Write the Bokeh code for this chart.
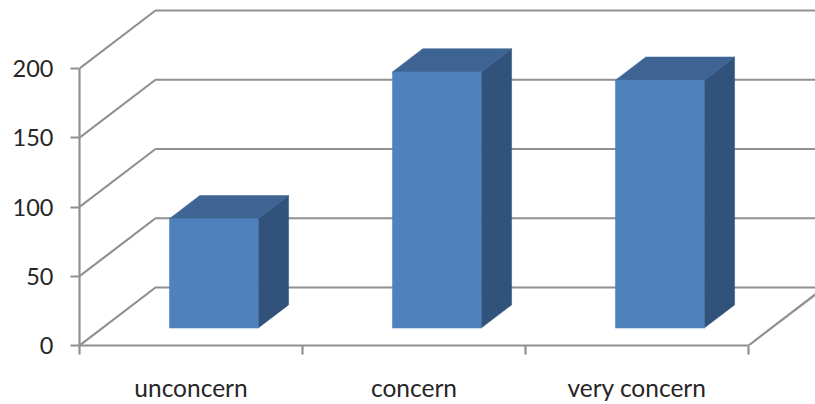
from bokeh.embed import file_html
from bokeh.models import FixedTicker, Range1d
from bokeh.plotting import figure
from bokeh.resources import INLINE

categories = ["unconcern", "concern", "very concern"]
values = [79, 185, 179]
value_ticks = [0, 50, 100, 150, 200]

GRID = "#909090"
TEXT = "#262626"
FRONT = "#4f81bd"
TOP = "#3d6493"
SIDE = "#30527b"

# Oblique projection of the 3D box: one unit of depth moves a point by this much.
DEPTH_X = 76 / 223
DEPTH_Y = 58 / 1.385
BAR_WIDTH = 0.398
BAR_NEAR, BAR_FAR = 0.3, 0.7


def project(x, y, depth):
    return x + depth * DEPTH_X, y + depth * DEPTH_Y


p = figure(
    width=815, height=404, output_backend="svg", toolbar_location=None,
    x_range=Range1d(0, 736 / 223), y_range=Range1d(0, 345 / 1.385),
    min_border_left=79, min_border_bottom=59, min_border_top=0, min_border_right=0,
)
p.outline_line_color = None
p.grid.visible = False
p.background_fill_color = "white"

# Walls: a diagonal on the side wall and a horizontal on the back wall per tick.
n = len(categories)
for v in value_ticks:
    bx, by = project(0, v, 1)
    p.line([0, bx, project(n, v, 1)[0]], [v, by, by], line_color=GRID, line_width=2.2)

# Floor edge on the right
ex, ey = project(n, 0, 1)
p.line([n, ex], [0, ey], line_color=GRID, line_width=2.2)

# Boxes: front, top and side faces
for i, v in enumerate(values):
    left = i + 0.5 - BAR_WIDTH / 2
    right = i + 0.5 + BAR_WIDTH / 2
    front = [project(left, 0, BAR_NEAR), project(right, 0, BAR_NEAR), project(right, v, BAR_NEAR), project(left, v, BAR_NEAR)]
    top = [project(left, v, BAR_NEAR), project(right, v, BAR_NEAR), project(right, v, BAR_FAR), project(left, v, BAR_FAR)]
    side = [project(right, 0, BAR_NEAR), project(right, 0, BAR_FAR), project(right, v, BAR_FAR), project(right, v, BAR_NEAR)]
    for face, colour in ((side, SIDE), (top, TOP), (front, FRONT)):
        p.patch([q[0] for q in face], [q[1] for q in face],
                fill_color=colour, line_color=colour, line_width=0.5)

ya = p.yaxis[0]
ya.bounds = (0, 200)
ya.ticker = FixedTicker(ticks=value_ticks)
ya.axis_line_color = GRID
ya.axis_line_width = 2.2
ya.major_tick_line_color = GRID
ya.major_tick_line_width = 2.2
ya.major_tick_in = 0
ya.major_tick_out = 9
ya.minor_tick_line_color = None
ya.major_label_standoff = 17
ya.major_label_text_font = "Lato"
ya.major_label_text_font_size = "23.5px"
ya.major_label_text_color = TEXT

xa = p.xaxis[0]
xa.bounds = (0, n)
xa.ticker = FixedTicker(ticks=[i + 0.5 for i in range(n)], minor_ticks=list(range(n + 1)))
xa.major_label_overrides = {i + 0.5: c for i, c in enumerate(categories)}
xa.axis_line_color = GRID
xa.axis_line_width = 2.2
xa.major_tick_line_color = None
xa.major_tick_in = 0
xa.major_tick_out = 0
xa.minor_tick_line_color = GRID
xa.minor_tick_line_width = 2.2
xa.minor_tick_in = 0
xa.minor_tick_out = 9
xa.major_label_standoff = 18
xa.major_label_text_font = "Lato"
xa.major_label_text_font_size = "24.5px"
xa.major_label_text_color = TEXT

open("out.html", "w").write(file_html(p, INLINE))
